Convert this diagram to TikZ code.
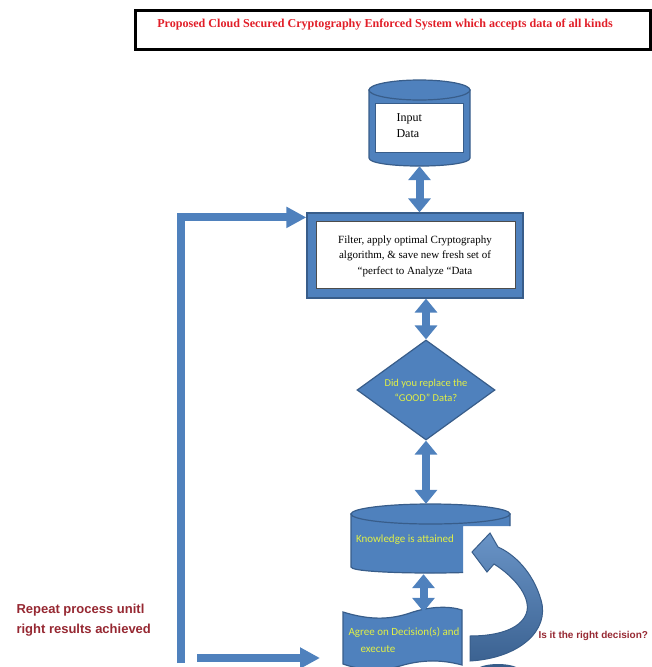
\documentclass[tikz,border=0pt]{standalone}
\usepackage{fontspec}
\setmainfont{Liberation Serif}
\newfontfamily\calibrifont{Carlito}
\newfontfamily\arialfont{Liberation Sans}
\usetikzlibrary{positioning, arrows.meta, shapes.geometric}
\definecolor{boxBlue}{RGB}{79,129,189}
\definecolor{edgeBlue}{RGB}{56,93,138}
\definecolor{titleRed}{RGB}{225,30,40}
\definecolor{noteRed}{RGB}{150,40,50}
\definecolor{hiYellow}{RGB}{225,240,70}
\tikzset{
  shapefill/.style={fill=boxBlue, draw=edgeBlue, line width=1.2},
  holder/.style={inner sep=0, minimum width=#1},
  linkarrow/.style={boxBlue, line width=8, {Triangle[length=14pt,width=22pt]}-{Triangle[length=14pt,width=22pt]}},
  looparrow/.style={boxBlue, line width=8, -{Triangle[length=20pt,width=20pt]}},
  yellowtext/.style={text=hiYellow, font=\calibrifont\fontsize{11}{17}\selectfont},
  redtext/.style={text=noteRed, font=\arialfont\bfseries\fontsize{#1}{20}\selectfont},
}

\begin{document}
\begin{tikzpicture}[x=1pt, y=-1pt]
  \useasboundingbox (0,0) rectangle (652,667);

  % Title
  \node[draw=black, line width=3, minimum width=515, minimum height=39, inner sep=0] (title) at (392.5,29.5) {};
  \node[text=titleRed, font=\bfseries\fontsize{12.1}{14}\selectfont] (titletext) at (385,25)
    {Proposed Cloud Secured Cryptography Enforced System which accepts data of all kinds};

  % Input data cylinder
  \draw[shapefill] (369,90) -- (369,158) .. controls (369,168.7) and (470,168.7) .. (470,158) -- (470,90) -- cycle;
  \draw[shapefill] (419.5,90) ellipse [x radius=50.5, y radius=10];
  \draw[fill=white, draw=edgeBlue] (375,103) rectangle (463,152);
  \node[holder=101, minimum height=86] (inputdata) at (419.5,123) {};
  \node[anchor=west, align=left, font=\fontsize{12}{16}\selectfont] (inputtext) at (393,125.5) {Input\\Data};

  % Filter box
  \node[shapefill, holder=216, minimum height=85] (filter) at (415,255.5) {};
  \draw[fill=white, draw=black!70] (316,221) rectangle (515,288);
  \node[align=center, font=\fontsize{11}{15.5}\selectfont] (filtertext) at (415,256)
    {Filter, apply optimal Cryptography\\algorithm, \& save new fresh set of\\\textquotedblleft perfect to Analyze \textquotedblleft Data};

  % Decision
  \node[diamond, aspect=1.4, shapefill, holder=138, minimum height=100, yellowtext, align=center,
        font=\calibrifont\fontsize{10.5}{15}\selectfont] (decision) at (426,390)
    {Did you replace the\\\textquotedblleft GOOD\textquotedblright{} Data?};

  % Knowledge cylinder (right part cut away)
  \begin{scope}
    \clip (340,490) -- (520,490) -- (520,526) -- (463,526) -- (463,590) -- (340,590) -- cycle;
    \draw[shapefill] (351,514) -- (351,567) .. controls (351,575) and (510,575) .. (510,567) -- (510,514) -- cycle;
  \end{scope}
  \draw[shapefill] (430.5,514) ellipse [x radius=79.5, y radius=10];
  \node[holder=159, minimum height=70] (knowledge) at (430.5,539) {};
  \node[yellowtext] (knowledgetext) at (405,540) {Knowledge is attained};

  % Decision document
  \draw[shapefill] (343,612) .. controls (372,621) and (392,619) .. (410,613)
    .. controls (430,606) and (450,606) .. (462,610) -- (462,665)
    .. controls (440,659) and (420,660) .. (400,666)
    .. controls (380,672) and (360,670) .. (343,664) -- cycle;
  \node[holder=119, minimum height=56] (agree) at (402.5,640) {};
  \node[yellowtext, align=left] (agreetext) at (404,640) {Agree on Decision(s) and\\\hspace{12pt}execute};
  \fill[edgeBlue] (498,671) ellipse [x radius=22, y radius=7];

  % Curved feedback arrow
  \shade[top color=boxBlue!85!white, bottom color=edgeBlue!85!boxBlue, draw=edgeBlue, line width=1]
    (470,661) .. controls (520,658) and (550,630) .. (541,600)
    .. controls (533,572) and (514,554) .. (498,547)
    -- (490,533) -- (472,552) -- (487,572) -- (494,564)
    .. controls (513,576) and (530,595) .. (527,611)
    .. controls (523,628) and (500,636) .. (470,636) -- cycle;

  % Links
  \draw[linkarrow] (inputdata.south) -- (inputdata.south |- filter.north);
  \draw[linkarrow] (decision.north |- filter.south) -- (decision.north);
  \draw[linkarrow] (decision.south) -- (decision.south |- knowledge.north);
  \draw[linkarrow] ([xshift=-7pt]knowledge.south) -- ([xshift=-7pt]knowledge.south |- agree.north);

  % Repeat loop
  \coordinate (loopfoot) at (181,663);
  \coordinate (returnstart) at (197,658);
  \coordinate (returnend) at (320,658);
  \draw[looparrow] (loopfoot) |- ([yshift=-5pt]filter.north west);
  \draw[looparrow] (returnstart) -- (returnend);

  % Notes
  \node[redtext=13, align=left, anchor=west] (repeatnote) at (13,620) {Repeat process unitl\\right results achieved};
  \node[redtext=10, anchor=west] (rightq) at (535,636) {Is it the right decision?};
\end{tikzpicture}
\end{document}
